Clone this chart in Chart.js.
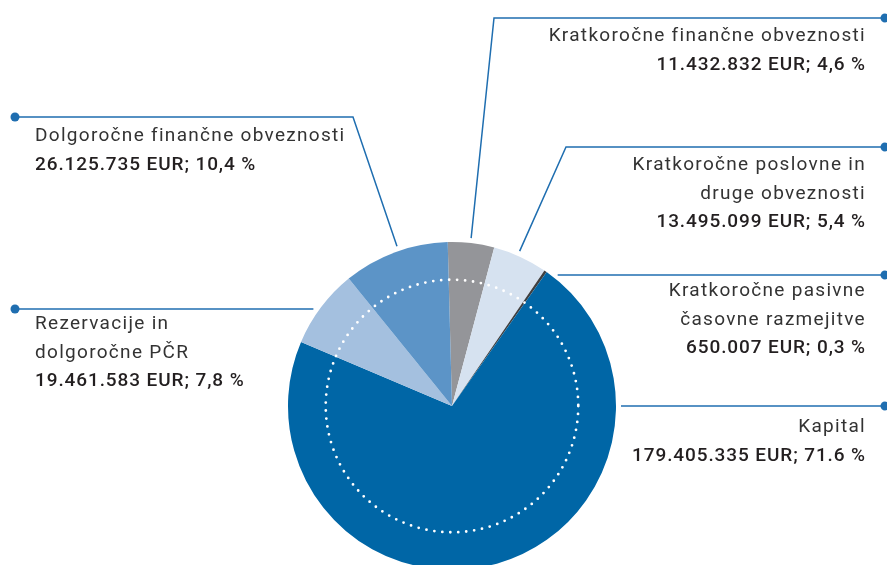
<!DOCTYPE html>
<html>
<head>
<meta charset="utf-8">
<script src="https://cdn.jsdelivr.net/npm/chart.js@4"></script>
<style>
    html, body { margin: 0; padding: 0; background: #fff; overflow: hidden; }
    #wrap { width: 887px; height: 565px; overflow: hidden; }
</style>
</head>
<body>
<div id="wrap"><canvas id="structureChart" width="887" height="580"></canvas></div>
<script>
// Sources of funds, clockwise from the top of the pie
const categories = [
    ['Kratkoročne finančne obveznosti'],
    ['Kratkoročne poslovne in', 'druge obveznosti'],
    ['Kratkoročne pasivne', 'časovne razmejitve'],
    ['Kapital'],
    ['Rezervacije in', 'dolgoročne PČR'],
    ['Dolgoročne finančne obveznosti']
];
const amounts = [11432832, 13495099, 650007, 179405335, 19461583, 26125735];
const shareLabels = ['4,6', '5,4', '0,3', '71.6', '7,8', '10,4'];
const sliceColors = ['#949599', '#d6e2f0', '#404041', '#0066a6', '#a4c0df', '#5c94c7'];

// Callout geometry: anchor angle on the rim (deg, clockwise from top), bend, end dot, first text baseline
const callouts = [
    { angle: 6.5,   bend: [494, 18],  end: [885, 18],  side: 'right', textY: 41 },
    { angle: 23.6,  bend: [566, 147], end: [885, 147], side: 'right', textY: 170 },
    { angle: 38.7,  bend: null,       end: [885, 275], side: 'right', textY: 296 },
    { angle: 90,    bend: null,       end: [885, 406], side: 'right', textY: 432 },
    { angle: 304.9, bend: null,       end: [15, 309],  side: 'left',  textY: 329 },
    { angle: 341,   bend: [353, 117], end: [15, 117],  side: 'left',  textY: 141 }
];

function formatEur(value) {
    return String(value).replace(/\B(?=(\d{3})+(?!\d))/g, '.');
}

const calloutPlugin = {
    id: 'callouts',
    afterDatasetsDraw(chart) {
        const ctx = chart.ctx;
        const arcs = chart.getDatasetMeta(0).data;
        const cx = arcs[0].x, cy = arcs[0].y, r = arcs[0].outerRadius;

        // white dotted ring inside the pie
        ctx.save();
        ctx.beginPath();
        ctx.arc(cx, cy, r * 0.77, 0, Math.PI * 2);
        ctx.strokeStyle = '#ffffff';
        ctx.lineWidth = 2.8;
        ctx.lineCap = 'round';
        ctx.setLineDash([0, 8]);
        ctx.stroke();
        ctx.restore();

        callouts.forEach((c, i) => {
            const a = c.angle * Math.PI / 180;
            const sx = cx + (r + 5) * Math.sin(a);
            const sy = cy - (r + 5) * Math.cos(a);

            ctx.save();
            ctx.strokeStyle = '#1f6eb0';
            ctx.lineWidth = 1.5;
            ctx.beginPath();
            if (c.bend) {
                ctx.moveTo(sx, sy);
                ctx.lineTo(c.bend[0], c.bend[1]);
            } else {
                ctx.moveTo(sx, c.end[1]);
            }
            ctx.lineTo(c.end[0], c.end[1]);
            ctx.stroke();
            ctx.fillStyle = '#1f6eb0';
            ctx.beginPath();
            ctx.arc(c.end[0], c.end[1], 4.5, 0, Math.PI * 2);
            ctx.fill();

            // label text
            const tx = c.side === 'right' ? 866 : 35;
            ctx.textAlign = c.side === 'right' ? 'right' : 'left';
            ctx.textBaseline = 'alphabetic';
            let y = c.textY;
            ctx.fillStyle = '#333333';
            ctx.font = '400 19px Roboto';
            ctx.letterSpacing = '1.3px';
            categories[i].forEach(line => {
                ctx.fillText(line, tx, y);
                y += 28.5;
            });
            ctx.fillStyle = '#231f20';
            ctx.font = '500 19px Roboto';
            ctx.letterSpacing = '0.9px';
            ctx.fillText(formatEur(amounts[i]) + ' EUR; ' + shareLabels[i] + ' %', tx, y);
            ctx.restore();
        });
    }
};

const ctx = document.getElementById('structureChart').getContext('2d');
const structureChart = new Chart(ctx, {
    type: 'pie',
    data: {
        labels: categories.map(c => c.join(' ')),
        datasets: [{
            data: amounts,
            backgroundColor: sliceColors,
            borderWidth: 0
        }]
    },
    options: {
        responsive: false,
        animation: false,
        rotation: -1.5,
        layout: {
            padding: { left: 288, right: 271, top: 242, bottom: 10 }
        },
        plugins: {
            legend: { display: false },
            tooltip: { enabled: false }
        }
    },
    plugins: [calloutPlugin]
});
</script>
</body>
</html>
